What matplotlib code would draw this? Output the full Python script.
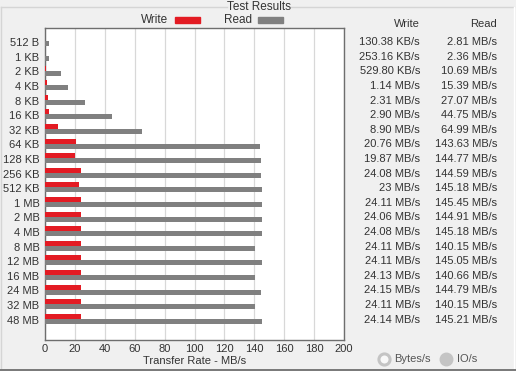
import numpy as np
import matplotlib as m
m.use('Agg')
import matplotlib.pyplot as plt
from matplotlib import transforms
from matplotlib.patches import Rectangle
from matplotlib.lines import Line2D

# block sizes and measured rates (MB/s)
sizes = ['512 B', '1 KB', '2 KB', '4 KB', '8 KB', '16 KB', '32 KB', '64 KB',
         '128 KB', '256 KB', '512 KB', '1 MB', '2 MB', '4 MB', '8 MB',
         '12 MB', '16 MB', '24 MB', '32 MB', '48 MB']
write = [0.127, 0.247, 0.517, 1.14, 2.31, 2.90, 8.90, 20.76, 19.87, 24.08,
         23.0, 24.11, 24.06, 24.08, 24.11, 24.11, 24.13, 24.15, 24.11, 24.14]
read = [2.81, 2.36, 10.69, 15.39, 27.07, 44.75, 64.99, 143.63, 144.77, 144.59,
        145.18, 145.45, 144.91, 145.18, 140.15, 145.05, 140.66, 144.79, 140.15, 145.21]
write_txt = ['130.38 KB/s', '253.16 KB/s', '529.80 KB/s', '1.14 MB/s', '2.31 MB/s',
             '2.90 MB/s', '8.90 MB/s', '20.76 MB/s', '19.87 MB/s', '24.08 MB/s',
             '23 MB/s', '24.11 MB/s', '24.06 MB/s', '24.08 MB/s', '24.11 MB/s',
             '24.11 MB/s', '24.13 MB/s', '24.15 MB/s', '24.11 MB/s', '24.14 MB/s']
read_txt = ['2.81 MB/s', '2.36 MB/s', '10.69 MB/s', '15.39 MB/s', '27.07 MB/s',
            '44.75 MB/s', '64.99 MB/s', '143.63 MB/s', '144.77 MB/s', '144.59 MB/s',
            '145.18 MB/s', '145.45 MB/s', '144.91 MB/s', '145.18 MB/s', '140.15 MB/s',
            '145.05 MB/s', '140.66 MB/s', '144.79 MB/s', '140.15 MB/s', '145.21 MB/s']
xticks = [0, 20, 40, 60, 80, 100, 120, 140, 160, 180, 200]

RED = '#e31b23'
GRAY = '#808080'
TXT = '#333333'
BG = '#f0f0f0'

plt.rc('font', family=['Liberation Sans', 'DejaVu Sans'], size=8)

W, H = 516, 371
fig = plt.figure(figsize=(W / 100, H / 100), dpi=100, facecolor=BG)

def fx(px):
  return px / W

def fy(py):
  return 1 - py / H

ax = fig.add_axes([fx(45), fy(340), fx(344) - fx(45), fy(28) - fy(340)])
ax.set_facecolor('white')

y = np.arange(len(sizes))
bh = 0.34
ax.barh(y - bh, write, height=bh, color=RED, align='edge', zorder=3)
ax.barh(y, read, height=bh, color=GRAY, align='edge', zorder=3)

ax.set_xlim(0, 200)
ax.set_ylim(20.45, -0.92)
ax.set_xticks(xticks)
ax.set_yticks(y + 0.05)
ax.set_yticklabels(sizes)
ax.tick_params(axis='both', length=0, colors=TXT, labelsize=8)
ax.tick_params(axis='y', pad=4)
ax.tick_params(axis='x', pad=3)
ax.grid(axis='x', color='#d8d8d8', lw=0.9, zorder=0)
for s in ax.spines.values():
  s.set_color('#6e6e6e')
  s.set_linewidth(1.0)
ax.set_xlabel('Transfer Rate - MB/s', color=TXT, labelpad=1)

# table of values on the right
tr = transforms.blended_transform_factory(fig.transFigure, ax.transData)
for i in y:
  fig.text(fx(420), i + 0.05, write_txt[i], transform=tr, ha='right', va='center', color=TXT)
  fig.text(fx(497), i + 0.05, read_txt[i], transform=tr, ha='right', va='center', color=TXT)
fig.text(fx(420), fy(24), 'Write', ha='right', va='center', color=TXT)
fig.text(fx(497), fy(24), 'Read', ha='right', va='center', color=TXT)

# group box and title
fig.add_artist(Line2D([fx(1), fx(227)], [fy(6.5), fy(6.5)], color='#d5d5d5', lw=1))
fig.add_artist(Line2D([fx(291), fx(514)], [fy(6.5), fy(6.5)], color='#d5d5d5', lw=1))
fig.add_artist(Line2D([fx(1), fx(1)], [fy(6.5), fy(368)], color='#d5d5d5', lw=1))
fig.add_artist(Line2D([fx(514), fx(514)], [fy(6.5), fy(368)], color='#ffffff', lw=1))
fig.add_artist(Line2D([fx(0), fx(516)], [fy(369.5), fy(369.5)], color='#646464', lw=1.2))
fig.text(fx(259), fy(7), 'Test Results', ha='center', va='center', color=TXT, size=8.5)

# legend
fig.text(fx(168), fy(20), 'Write', ha='right', va='center', color=TXT, size=8.5)
fig.add_artist(Rectangle((fx(175), fy(22.5)), fx(25), fy(17.5) - fy(22.5), color=RED))
fig.text(fx(252), fy(20), 'Read', ha='right', va='center', color=TXT, size=8.5)
fig.add_artist(Rectangle((fx(258), fy(22.5)), fx(25), fy(17.5) - fy(22.5), color=GRAY))

# radio buttons
fig.add_artist(Line2D([fx(384)], [fy(359)], marker='o', ms=8, mfc='#f8f8f8',
                      mec='#c4c4c4', mew=2.2))
fig.text(fx(394), fy(359), 'Bytes/s', ha='left', va='center', color='#555555')
fig.add_artist(Line2D([fx(446)], [fy(359)], marker='o', ms=9, mfc='#c4c4c4',
                      mec='#c4c4c4', mew=1))
fig.text(fx(457), fy(359), 'IO/s', ha='left', va='center', color='#555555')

plt.savefig('out.png', dpi=100, facecolor=BG)
